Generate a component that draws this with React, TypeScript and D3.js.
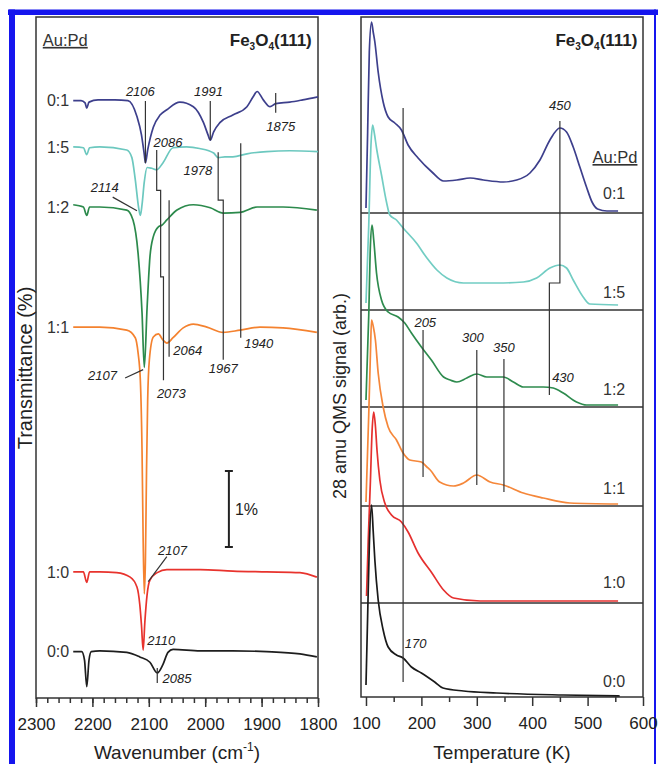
import React, { useEffect, useRef } from "react";
import * as d3 from "d3";

type Pt = [number, number];

const FONT = "'Liberation Sans', Arial, Helvetica, sans-serif";

// ---------- IR spectra (left) : [wavenumber, transmittance change in % vs. own baseline]
const irSamples = ["0:1", "1:5", "1:2", "1:1", "1:0", "0:0"];
const irColors = ["#3d3f8c", "#6cc8bf", "#2c8a4c", "#f4822f", "#e8332d", "#1e1e1e"];
const irOffsets = [7.87, 7.24, 6.46, 4.88, 1.66, 0.61];

const ir01: Pt[] = [
  [2234, -0.01], [2220, -0.01], [2213, -0.04], [2210, -0.11], [2206, -0.03], [2190, 0],
  [2160, 0], [2137, -0.01], [2121, -0.22], [2113, -0.46], [2108, -0.72], [2106, -0.83],
  [2102, -0.66], [2092, -0.36], [2080, -0.2], [2068, -0.13], [2045, -0.03], [2021, -0.09],
  [2003, -0.3], [1995, -0.46], [1991, -0.53], [1985, -0.42], [1974, -0.3], [1951, -0.2],
  [1926, -0.09], [1915, 0.04], [1908, 0.11], [1897, 0], [1885, -0.09], [1875, -0.05],
  [1850, -0.03], [1827, 0], [1800, 0.04],
];
const ir15: Pt[] = [
  [2234, 0.01], [2216, 0], [2210, -0.09], [2205, 0], [2187, 0.01], [2139, -0.03],
  [2130, -0.13], [2124, -0.42], [2118, -0.79], [2115, -0.89], [2112, -0.75], [2108, -0.45],
  [2103, -0.26], [2095, -0.27], [2086, -0.29], [2075, -0.2], [2057, 0], [2033, 0.01],
  [2010, -0.01], [1985, -0.07], [1977, -0.13], [1965, -0.12], [1951, -0.12], [1926, -0.08],
  [1891, -0.05], [1850, -0.04], [1800, -0.05],
];
const ir12: Pt[] = [
  [2234, 0.03], [2216, 0], [2210, -0.11], [2205, 0], [2187, 0], [2139, -0.04],
  [2128, -0.17], [2119, -0.61], [2112, -1.39], [2108, -2.11], [2103, -1.32], [2098, -0.66],
  [2092, -0.39], [2083, -0.26], [2077, -0.24], [2068, -0.17], [2050, -0.04], [2021, 0.03],
  [1991, -0.01], [1968, -0.08], [1938, -0.07], [1908, 0], [1862, 0], [1802, -0.04],
];
const ir11: Pt[] = [
  [2234, 0], [2187, 0], [2139, -0.04], [2124, -0.14], [2119, -0.34], [2115, -0.7],
  [2112, -1.62], [2110, -2.8], [2108, -3.51], [2106, -3.07], [2104, -1.88], [2102, -0.96],
  [2099, -0.43], [2092, -0.13], [2083, -0.09], [2075, -0.17], [2068, -0.21], [2057, -0.14],
  [2039, -0.01], [2021, 0.04], [1997, 0], [1968, -0.07], [1938, -0.04], [1903, 0],
  [1862, -0.01], [1802, -0.07],
];
const ir10: Pt[] = [
  [2234, 0], [2216, 0], [2210, -0.14], [2205, 0], [2187, 0], [2157, -0.01],
  [2133, -0.07], [2121, -0.2], [2116, -0.43], [2113, -0.7], [2110, -1.03], [2107, -0.66],
  [2103, -0.3], [2098, -0.11], [2085, -0.01], [2068, 0.03], [2009, 0.03], [1951, 0.01],
  [1891, 0], [1832, -0.01], [1802, -0.07],
];
const ir00: Pt[] = [
  [2234, 0], [2219, 0], [2214, -0.11], [2210, -0.46], [2206, -0.11], [2202, 0],
  [2187, 0.01], [2139, -0.01], [2116, -0.07], [2098, -0.14], [2085, -0.28], [2075, -0.17],
  [2066, -0.01], [2057, 0.03], [2009, 0.01], [1951, 0.01], [1891, 0], [1832, -0.03],
  [1802, -0.07],
];
const irSeries = [ir01, ir15, ir12, ir11, ir10, ir00];

// marker lines in (wavenumber, %) absolute units
const irMarkers: Pt[][] = [
  [[2106, 7.855], [2106, 7.04]],
  [[1991, 7.855], [1991, 7.34]],
  [[1875, 7.96], [1875, 7.7]],
  [[2086, 7.21], [2086, 6.68], [2079, 6.68], [2079, 5.54], [2074, 5.54], [2074, 4.18]],
  [[2064, 6.55], [2064, 4.49]],
  [[1977, 7.18], [1977, 6.55], [1968, 6.55], [1968, 4.45]],
  [[1937, 7.3], [1937, 4.74]],
  [[2164, 6.59], [2121, 6.41]],
  [[2142, 4.21], [2110, 4.32]],
  [[2068, 1.86], [2101, 1.53]],
  [[2085, 0.395], [2085, 0.197]],
];
const irPeakLabels: [string, number, number][] = [
  ["2106", 2115, 7.92], ["1991", 1994, 7.92], ["1875", 1866, 7.46], ["2086", 2066, 7.25],
  ["1978", 2013, 6.88], ["2114", 2178, 6.66], ["2064", 2031, 4.51], ["1940", 1905, 4.6],
  ["1967", 1968, 4.28], ["2107", 2182, 4.18], ["2073", 2060, 3.95], ["2107", 2058, 1.88],
  ["2110", 2078, 0.7], ["2085", 2050, 0.2],
];
const irScaleBar = [1.987, 2.987];
const irMajorTicks = [2300, 2200, 2100, 2000, 1900, 1800];
const irMinorTicks = d3.range(2300, 1799, -20);

// ---------- TPD (right) : [temperature K, 28 amu signal (arb.) above own baseline]
const tpdColors = ["#3d3f8c", "#72cdc3", "#2e8b4e", "#f5873a", "#e5302f", "#1a1a1a"];
const tpdOffsets = [485, 392, 292, 193, 96, 1];
const tpdSeparators = [484, 387, 290, 191, 94];

const tpd01: Pt[] = [
  [100, 4], [103, 80], [106, 160], [110, 190], [113, 180], [116, 170], [122, 140],
  [131, 110], [140, 95], [152, 89], [164, 82], [176, 67], [194, 54], [219, 40], [240, 31],
  [264, 32], [288, 34], [312, 32], [348, 30], [372, 32], [396, 39], [414, 52], [432, 72],
  [450, 84], [462, 80], [474, 65], [486, 45], [498, 25], [508, 10], [518, 3], [535, 1], [555, 1],
];
const tpd15: Pt[] = [
  [100, 2], [105, 80], [109, 160], [112, 180], [115, 172], [119, 157], [128, 130],
  [137, 103], [143, 90], [155, 85], [167, 77], [191, 62], [210, 47], [228, 35], [246, 27],
  [276, 22], [336, 22], [384, 23], [408, 27], [432, 37], [450, 40], [462, 37], [474, 25],
  [492, 8], [504, 1], [555, 0],
];
const tpd12: Pt[] = [
  [100, 5], [105, 90], [108, 160], [111, 180], [114, 165], [119, 132], [128, 105],
  [140, 93], [158, 88], [170, 82], [182, 72], [200, 58], [218, 45], [240, 28], [252, 25],
  [264, 23], [282, 27], [300, 31], [318, 28], [348, 28], [366, 23], [384, 18], [420, 18],
  [438, 17], [456, 12], [480, 3], [498, 0], [555, 0],
];
const tpd11: Pt[] = [
  [100, 2], [105, 90], [108, 150], [110, 184], [113, 178], [117, 164], [122, 131],
  [131, 97], [140, 77], [155, 64], [167, 51], [179, 44], [200, 42], [210, 37], [216, 34],
  [233, 22], [258, 18], [276, 21], [300, 29], [324, 22], [348, 19], [384, 11], [420, 6],
  [468, 1], [555, 0],
];
const tpd10: Pt[] = [
  [101, 5], [104, 60], [108, 120], [111, 170], [114, 189], [117, 175], [120, 150],
  [125, 121], [134, 98], [146, 86], [164, 79], [176, 69], [194, 48], [219, 28], [240, 11],
  [258, 3], [306, 0], [555, 0],
];
const tpd00: Pt[] = [
  [100, 11], [103, 80], [106, 150], [110, 191], [113, 165], [116, 136], [122, 96],
  [131, 66], [140, 49], [155, 41], [167, 38], [182, 29], [200, 23], [224, 14], [239, 8],
  [276, 5], [336, 3], [456, 1], [558, 0],
];
const tpdSeries = [tpd01, tpd15, tpd12, tpd11, tpd10, tpd00];
const tpdLabelLevels = [504, 405, 308, 209, 115, 16];

const tpdMarkers: Pt[][] = [
  [[167, 589], [167, 15]],
  [[450, 576], [450, 414], [431, 414], [431, 302]],
  [[203, 367], [203, 220]],
  [[300, 347], [300, 212]],
  [[349, 338], [349, 205]],
];
const tpdPeakLabels: [string, number, number, string][] = [
  ["450", 450, 587, "middle"], ["205", 207, 370, "middle"], ["300", 293, 355, "middle"],
  ["350", 349, 345, "middle"], ["430", 436, 315, "start"], ["170", 170, 49, "start"],
];
const tpdMajorTicks = [100, 200, 300, 400, 500, 600];
const tpdMinorTicks = [150, 250, 350, 450, 550];

const W = 658;
const H = 764;

export default function App() {
  const chartRef = useRef<SVGSVGElement | null>(null);

  useEffect(() => {
    if (!chartRef.current) return;
    const svg = d3.select(chartRef.current);
    svg.selectAll("*").remove();
    svg
      .attr("width", W)
      .attr("height", H)
      .attr("viewBox", [0, 0, W, H].join(" "))
      .style("font-family", FONT);

    svg.append("rect").attr("width", W).attr("height", H).attr("fill", "#fff");

    // blue journal frame
    const blue = "#1515ee";
    svg.append("rect").attr("x", 8).attr("y", 9.5).attr("width", 650).attr("height", 5.5).attr("fill", blue);
    svg.append("rect").attr("x", 9).attr("y", 9.5).attr("width", 6).attr("height", H).attr("fill", blue);
    svg.append("rect").attr("x", 654).attr("y", 9.5).attr("width", 2).attr("height", H).attr("fill", blue);

    // ===== left panel: IR =====
    const x = d3.scaleLinear().domain([2300, 1800]).range([36, 318]);
    const y = d3.scaleLinear().domain([0, 8.96]).range([698, 17]);

    const axisStyle = (g: any) => {
      g.select(".domain").remove();
      g.selectAll(".tick line").attr("stroke", "#333").attr("stroke-width", 1.5);
      g.selectAll(".tick text").attr("font-size", 17).attr("fill", "#222").style("font-family", FONT);
    };

    svg.append("g")
      .attr("transform", "translate(0,698)")
      .call(d3.axisBottom(x).tickValues(irMinorTicks).tickSize(5).tickFormat(() => ""))
      .call(axisStyle);
    svg.append("g")
      .attr("transform", "translate(0,698)")
      .call(d3.axisBottom(x).tickValues(irMajorTicks).tickSize(9).tickPadding(11).tickFormat(d3.format("d")))
      .call(axisStyle);

    svg.append("rect")
      .attr("x", x(2300)).attr("y", y(8.96))
      .attr("width", x(1800) - x(2300)).attr("height", y(0) - y(8.96))
      .attr("fill", "none").attr("stroke", "#333").attr("stroke-width", 1.5);

    // spectra, bottom one first
    for (let i = irSeries.length - 1; i >= 0; i--) {
      const off = irOffsets[i];
      const line = d3.line<Pt>()
        .x((d) => x(d[0]))
        .y((d) => y(off + d[1]))
        .curve(d3.curveMonotoneX);
      svg.append("path")
        .attr("d", line(irSeries[i]))
        .attr("fill", "none")
        .attr("stroke", irColors[i])
        .attr("stroke-width", 1.7);
      svg.append("text")
        .attr("x", x(irSeries[i][0][0]) - 4)
        .attr("y", y(off))
        .attr("dy", "0.36em")
        .attr("text-anchor", "end")
        .attr("font-size", 16)
        .attr("fill", "#333")
        .text(irSamples[i]);
    }

    const markerLine = d3.line<Pt>().x((d) => x(d[0])).y((d) => y(d[1]));
    irMarkers.forEach((m) => {
      svg.append("path").attr("d", markerLine(m)).attr("fill", "none")
        .attr("stroke", "#333").attr("stroke-width", 1.2);
    });
    irPeakLabels.forEach(([t, w, v]) => {
      svg.append("text").attr("x", x(w)).attr("y", y(v))
        .attr("text-anchor", "middle").attr("font-size", 13)
        .attr("font-style", "italic").attr("fill", "#222").text(t);
    });

    // 1% scale bar
    const bx = x(1958);
    svg.append("line").attr("x1", bx).attr("x2", bx).attr("y1", y(irScaleBar[0])).attr("y2", y(irScaleBar[1]))
      .attr("stroke", "#222").attr("stroke-width", 2);
    irScaleBar.forEach((v) => {
      svg.append("line").attr("x1", bx - 4).attr("x2", bx + 4).attr("y1", y(v)).attr("y2", y(v))
        .attr("stroke", "#222").attr("stroke-width", 2);
    });
    svg.append("text").attr("x", bx + 6).attr("y", y((irScaleBar[0] + irScaleBar[1]) / 2))
      .attr("dy", "0.36em").attr("font-size", 16).attr("fill", "#222").text("1%");

    // titles
    svg.append("text").attr("x", x(2288)).attr("y", y(8.58))
      .attr("font-size", 16.5).attr("fill", "#333").attr("text-decoration", "underline").text("Au:Pd");

    const feLabel = (px: number, py: number) => {
      const t = svg.append("text").attr("x", px).attr("y", py).attr("text-anchor", "end")
        .attr("font-size", 17).attr("font-weight", "bold").attr("fill", "#222");
      t.append("tspan").text("Fe");
      t.append("tspan").attr("font-size", 10).attr("dy", 4).text("3");
      t.append("tspan").attr("dy", -4).text("O");
      t.append("tspan").attr("font-size", 10).attr("dy", 4).text("4");
      t.append("tspan").attr("dy", -4).text("(111)");
    };
    feLabel(x(1811), y(8.58));

    const xt = svg.append("text").attr("x", x(2050)).attr("y", 759).attr("text-anchor", "middle")
      .attr("font-size", 19).attr("fill", "#222");
    xt.append("tspan").text("Wavenumber (cm");
    xt.append("tspan").attr("font-size", 12).attr("dy", -8).text("-1");
    xt.append("tspan").attr("dy", 8).text(")");

    svg.append("text").attr("transform", "translate(25,368) rotate(-90)")
      .attr("text-anchor", "middle").attr("dy", "0.36em")
      .attr("font-size", 20).attr("fill", "#222").text("Transmittance (%)");

    // ===== right panel: TPD =====
    const xT = d3.scaleLinear().domain([91, 600]).range([361, 643]);
    const yT = d3.scaleLinear().domain([0, 680]).range([697, 17]);

    svg.append("g")
      .attr("transform", "translate(0,697)")
      .call(d3.axisBottom(xT).tickValues(tpdMinorTicks).tickSize(5).tickFormat(() => ""))
      .call(axisStyle);
    svg.append("g")
      .attr("transform", "translate(0,697)")
      .call(d3.axisBottom(xT).tickValues(tpdMajorTicks).tickSize(9).tickPadding(11).tickFormat(d3.format("d")))
      .call(axisStyle);

    tpdSeparators.forEach((v) => {
      svg.append("line").attr("x1", xT(91)).attr("x2", xT(600)).attr("y1", yT(v)).attr("y2", yT(v))
        .attr("stroke", "#333").attr("stroke-width", 1.5);
    });
    svg.append("rect")
      .attr("x", xT(91)).attr("y", yT(680))
      .attr("width", xT(600) - xT(91)).attr("height", yT(0) - yT(680))
      .attr("fill", "none").attr("stroke", "#333").attr("stroke-width", 1.5);

    tpdSeries.forEach((s, i) => {
      const off = tpdOffsets[i];
      const line = d3.line<Pt>()
        .x((d) => xT(d[0]))
        .y((d) => yT(off + d[1]))
        .curve(d3.curveMonotoneX);
      svg.append("path").attr("d", line(s)).attr("fill", "none")
        .attr("stroke", tpdColors[i]).attr("stroke-width", 1.7);
      svg.append("text").attr("x", xT(568)).attr("y", yT(tpdLabelLevels[i]))
        .attr("dy", "0.36em").attr("text-anchor", "end").attr("font-size", 16)
        .attr("fill", "#333").text(irSamples[i]);
    });

    const tMarker = d3.line<Pt>().x((d) => xT(d[0])).y((d) => yT(d[1]));
    tpdMarkers.forEach((m) => {
      svg.append("path").attr("d", tMarker(m)).attr("fill", "none")
        .attr("stroke", "#333").attr("stroke-width", 1.2);
    });
    tpdPeakLabels.forEach(([t, T, v, a]) => {
      svg.append("text").attr("x", xT(T)).attr("y", yT(v)).attr("text-anchor", a)
        .attr("font-size", 13).attr("font-style", "italic").attr("fill", "#222").text(t);
    });

    svg.append("text").attr("x", xT(590)).attr("y", yT(534)).attr("text-anchor", "end")
      .attr("font-size", 16.5).attr("fill", "#333").attr("text-decoration", "underline").text("Au:Pd");
    feLabel(xT(590), yT(651));

    svg.append("text").attr("x", (xT(91) + xT(600)) / 2).attr("y", 759).attr("text-anchor", "middle")
      .attr("font-size", 19).attr("fill", "#222").text("Temperature (K)");
    svg.append("text").attr("transform", "translate(340,396) rotate(-90)")
      .attr("text-anchor", "middle").attr("dy", "0.36em")
      .attr("font-size", 18).attr("fill", "#222").text("28 amu QMS signal (arb.)");
  }, [chartRef]);

  return (
    <svg ref={chartRef} style={{ position: "absolute", left: 0, top: 0, display: "block" }} />
  );
}
